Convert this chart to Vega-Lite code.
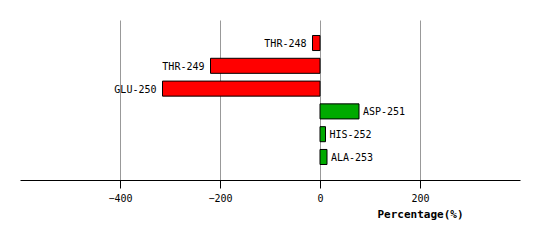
{
  "$schema": "https://vega.github.io/schema/vega-lite/v6.json",
  "width": 500,
  "height": 160,
  "autosize": {"type": "none"},
  "padding": {"left": 20, "top": 20, "right": 20, "bottom": 60},
  "background": "white",
  "config": {"view": {"stroke": null}},
  "data": {"values": [
    {"residue": "THR-248", "value": -15},
    {"residue": "THR-249", "value": -219},
    {"residue": "GLU-250", "value": -315},
    {"residue": "ASP-251", "value": 78},
    {"residue": "HIS-252", "value": 11},
    {"residue": "ALA-253", "value": 14}
  ]},
  "encoding": {
    "y": {"field": "residue", "type": "nominal", "sort": null, "axis": null,
          "scale": {"paddingInner": 0.34, "paddingOuter": 0.68}},
    "x": {"field": "value", "type": "quantitative",
          "scale": {"domain": [-600, 400], "nice": false, "zero": false},
          "axis": {"values": [-400, -200, 0, 200], "grid": true, "gridColor": "#999999", "gridWidth": 1,
                   "domainColor": "black", "domainWidth": 1, "tickColor": "black", "tickSize": 8,
                   "labelFont": "DejaVu Sans Mono", "labelFontSize": 10, "labelColor": "black", "labelPadding": 5,
                   "title": "Percentage(%)", "titleFont": "DejaVu Sans Mono", "titleFontSize": 11, "titleFontWeight": "bold",
                   "titleColor": "black", "titleX": 400, "titleY": 34, "titleAlign": "center", "titleBaseline": "middle"}}
  },
  "layer": [
    {"mark": {"type": "bar", "stroke": "black", "strokeWidth": 1},
     "encoding": {
       "x2": {"datum": 0},
       "color": {"condition": {"test": "datum.value < 0", "value": "#ff0000"}, "value": "#00aa00"}
     }},
    {"transform": [{"filter": "datum.value < 0"}],
     "mark": {"type": "text", "align": "right", "dx": -6, "dy": 1, "font": "DejaVu Sans Mono", "fontSize": 10, "color": "black"},
     "encoding": {"text": {"field": "residue"}}},
    {"transform": [{"filter": "datum.value >= 0"}],
     "mark": {"type": "text", "align": "left", "dx": 4, "dy": 1, "font": "DejaVu Sans Mono", "fontSize": 10, "color": "black"},
     "encoding": {"text": {"field": "residue"}}}
  ]
}
